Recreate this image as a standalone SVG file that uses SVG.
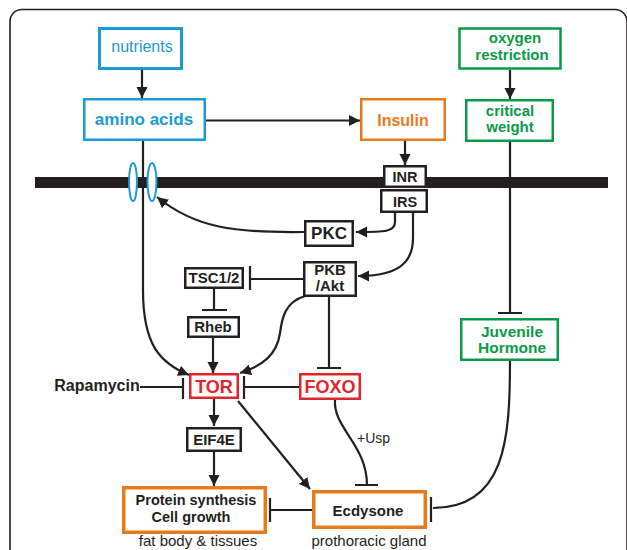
<svg xmlns="http://www.w3.org/2000/svg" width="627" height="550" viewBox="0 0 627 550">
<style>
text{font-family:"Liberation Sans",Arial,sans-serif;text-anchor:middle}
.b{font-weight:bold}
.box{fill:#fff;stroke:#231f20;stroke-width:2.5}
.blue{fill:#fff;stroke:#1b9ad6}
.org{fill:#fff;stroke:#e87a1e}
.grn{fill:#fff;stroke:#0a9a48;stroke-width:2.5}
.red{fill:#fff;stroke:#e1262b;stroke-width:2.5}
.tb{fill:#1b9ad6}.to{fill:#e87a1e}.tg{fill:#0a9a48}.tr{fill:#e1262b}.tk{fill:#231f20}
.c{fill:none;stroke:#231f20;stroke-width:2.2}
.a{marker-end:url(#arr)}
</style>
<defs>
<marker id="arr" markerUnits="userSpaceOnUse" markerWidth="12" markerHeight="12" refX="11" refY="6" orient="auto">
<path d="M0,0.5 L11,6 L0,11.5 z" fill="#231f20"/>
</marker>
</defs>
<rect x="10" y="9.5" width="617" height="560" rx="12" fill="none" stroke="#231f20" stroke-width="1.6"/>
<rect id="membrane" x="35" y="177" width="573" height="11" fill="#231f20"/>
<g id="connectors">
<path class="c a" d="M142,70 L142,98"/>
<path class="c a" d="M206,120.5 L360,120.5"/>
<path class="c a" d="M405,141 L405,165"/>
<path class="c a" d="M510,70 L510,99"/>
<path class="c" d="M510,142 L510,313 M498,313 L522,313"/>
<path class="c" d="M510,361 C510,440 505,508 433,508 M431,497 L431,522"/>
<path class="c a" d="M143,141 L143,290 C143,345 160,363 189,375"/>
<path class="c a" d="M395,213 L395,222 C395,232 385,232 356,232"/>
<path class="c a" d="M304,232 C235,233 195,228 157,197"/>
<path class="c a" d="M413,213 L413,238 C413,265 395,276 358,276"/>
<path class="c" d="M303,279 L250,279 M250,266 L250,290"/>
<path class="c" d="M214,289 L214,310 M202,310 L227,310"/>
<path class="c a" d="M213,338 L213,373"/>
<path class="c a" d="M305,296 C285,302 282,318 280,333 C277,355 262,366 240,373"/>
<path class="c" d="M329,297 L329,368 M317,368 L341,368"/>
<path class="c" d="M140,387 L183,387 M183,378 L183,399"/>
<path class="c" d="M299,387 L244,387 M244,376 L244,399"/>
<path class="c a" d="M214,399 L214,426"/>
<path class="c a" d="M214,452 L214,486"/>
<path class="c a" d="M238,401 L310,489"/>
<path class="c" d="M335,400 C333,428 367,445 367,485 M355,485 L378,485"/>
<path class="c" d="M312,510 L270,510 M270,498 L270,522"/>
<text x="357" y="443" font-size="14" style="text-anchor:start" class="tk">+Usp</text>
</g>
<g id="channels">
<ellipse cx="133" cy="182" rx="4" ry="19" fill="#fff" stroke="#1b9ad6" stroke-width="2"/>
<ellipse cx="152" cy="182" rx="4.5" ry="19" fill="#fff" stroke="#1b9ad6" stroke-width="2"/>
</g>
<g id="nutrients"><rect class="blue" x="99.5" y="28.5" width="82" height="40" stroke-width="3"/><text class="tb" x="142" y="52" font-size="16">nutrients</text></g>
<g id="amino"><rect class="blue" x="84.25" y="99.25" width="120.5" height="40.5" stroke-width="2.5"/><text class="tb b" x="144" y="125" font-size="17">amino acids</text></g>
<g id="insulin"><rect class="org" x="361.25" y="99.25" width="83.5" height="40.5" stroke-width="2.5"/><text class="to b" x="403" y="126" font-size="16">Insulin</text></g>
<g id="oxygen"><rect class="grn" x="459.5" y="28.5" width="101" height="40" stroke-width="3"/><text class="tg b" x="515" y="43" font-size="15">oxygen</text><text class="tg b" x="512" y="60" font-size="15">restriction</text></g>
<g id="critical"><rect class="grn" x="466.25" y="100.25" width="86.5" height="40.5"/><text class="tg b" x="510" y="116" font-size="15">critical</text><text class="tg b" x="510" y="132" font-size="15">weight</text></g>
<g id="jh"><rect class="grn" x="461.25" y="319.25" width="96.5" height="40.5"/><text class="tg b" x="512" y="337" font-size="15.5">Juvenile</text><text class="tg b" x="512" y="353" font-size="15.5">Hormone</text></g>
<g id="inr"><rect class="box" x="384.25" y="166.25" width="41.5" height="20.5"/><text class="tk b" x="405" y="182" font-size="14.5">INR</text></g>
<g id="irs"><rect class="box" x="381.25" y="190.25" width="45.5" height="21.5"/><text class="tk b" x="405" y="207" font-size="14.5">IRS</text></g>
<g id="pkc"><rect class="box" x="305.25" y="221.25" width="47.5" height="24.5"/><text class="tk b" x="329" y="239" font-size="17">PKC</text></g>
<g id="pkb"><rect class="box" x="304.25" y="262.25" width="51.5" height="33.5"/><text class="tk b" x="330" y="275" font-size="15">PKB</text><text class="tk b" x="330" y="291" font-size="15">/Akt</text></g>
<g id="tsc"><rect class="box" x="185.25" y="268.25" width="57.5" height="19.5"/><text class="tk b" x="214" y="283" font-size="15">TSC1/2</text></g>
<g id="rheb"><rect class="box" x="188.25" y="317.25" width="50.5" height="19.5"/><text class="tk b" x="213" y="332" font-size="15">Rheb</text></g>
<g id="tor"><rect class="red" x="190.25" y="374.25" width="47.5" height="23.5"/><text class="tr b" x="214" y="393" font-size="18">TOR</text></g>
<g id="foxo"><rect class="red" x="300.25" y="374.25" width="59.5" height="24.5"/><text class="tr b" x="330" y="393" font-size="18">FOXO</text></g>
<g id="rapamycin"><text class="tk b" x="97" y="391" font-size="16">Rapamycin</text></g>
<g id="eif4e"><rect class="box" x="187.25" y="428.25" width="53.5" height="22.5"/><text class="tk b" x="214" y="445" font-size="15">EIF4E</text></g>
<g id="protein"><rect class="org" x="123.75" y="487.75" width="141.5" height="44.5" stroke-width="3.5"/><text class="tk b" x="196" y="505" font-size="14.5">Protein synthesis</text><text class="tk b" x="191" y="522" font-size="14.5">Cell growth</text><text class="tk" x="198" y="546" font-size="15">fat body &amp; tissues</text></g>
<g id="ecdysone"><rect class="org" x="313.75" y="491.75" width="111.5" height="35.5" stroke-width="3.5"/><text class="tk b" x="368" y="516" font-size="15">Ecdysone</text><text class="tk" x="369" y="546" font-size="15">prothoracic gland</text></g>
</svg>
